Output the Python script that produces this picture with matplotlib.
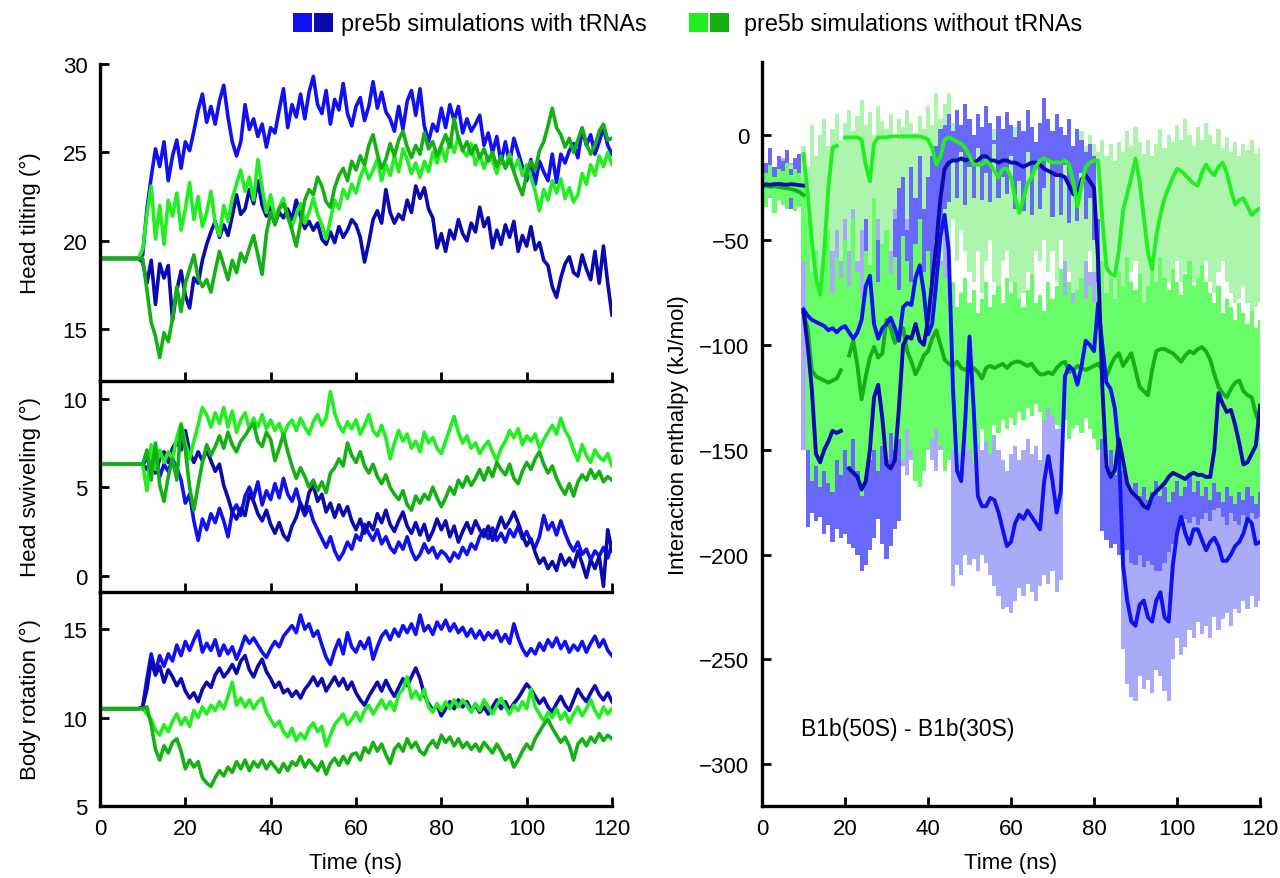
import numpy as np
import matplotlib
matplotlib.use('Agg')
import matplotlib.pyplot as plt
from matplotlib.patches import Rectangle

plt.rcParams['font.family'] = ['Liberation Sans', 'DejaVu Sans']

# ---------------- data ----------------
time_ns = np.arange(0, 121)

# Head tilting (deg)
tilt_blue = [19.0,19.0,19.0,19.0,19.0,19.0,19.0,19.0,19.0,19.0,
    19.2,21.8,23.6,25.2,24.2,25.6,23.4,24.8,25.7,24.1,
    25.6,25.1,26.2,27.4,28.3,26.7,27.6,26.6,27.9,28.8,
    27.0,25.6,24.8,25.6,27.7,26.3,26.9,25.9,26.6,25.3,
    26.4,26.1,27.4,28.6,26.4,27.7,27.0,28.3,26.9,28.4,
    29.3,27.7,27.2,28.5,26.6,28.0,27.4,28.9,27.2,26.5,
    27.6,28.1,26.8,27.6,29.0,27.5,28.4,27.3,26.9,26.2,
    27.6,26.3,27.9,28.5,27.1,28.6,26.5,25.6,26.6,26.2,
    27.5,26.4,27.7,26.8,27.6,26.1,26.9,26.2,26.6,27.1,
    25.4,26.1,25.0,25.9,24.4,25.6,24.4,25.8,25.0,24.2,
    23.4,24.6,23.2,24.5,23.9,23.4,24.9,23.3,24.9,24.4,
    25.1,25.5,24.7,26.3,25.4,26.0,24.9,25.6,26.4,25.4,
    24.9]
tilt_navy = [19.0,19.0,19.0,19.0,19.0,19.0,19.0,19.0,19.0,19.0,
    18.8,17.6,18.9,16.4,18.7,17.9,18.6,15.5,17.2,18.3,
    16.9,16.2,17.9,17.6,18.9,19.8,20.5,21.1,20.2,20.9,
    20.3,21.4,22.6,21.5,21.8,22.9,22.1,23.4,22.0,21.4,
    21.9,21.0,21.6,21.3,21.8,21.2,22.3,21.4,20.7,21.1,
    20.6,21.0,20.1,19.8,20.5,19.9,20.8,20.2,20.6,21.2,
    20.9,20.2,18.8,19.9,21.2,21.7,21.0,22.9,21.6,21.0,
    21.5,21.2,22.3,21.6,23.1,22.4,23.0,21.8,21.3,19.6,
    20.4,19.4,20.6,20.1,21.2,20.4,20.0,21.0,20.5,21.9,
    20.8,21.3,19.6,20.6,19.8,20.9,20.2,21.1,19.4,20.3,
    19.7,20.8,19.5,19.9,18.9,18.6,17.4,16.8,17.9,18.7,
    19.1,18.2,18.0,19.2,18.4,17.8,19.4,17.6,19.7,17.6,
    15.8]
tilt_lgreen = [19.0,19.0,19.0,19.0,19.0,19.0,19.0,19.0,19.0,19.0,
    19.5,21.5,23.1,20.1,22.0,19.8,22.3,21.4,22.7,20.6,
    21.8,23.3,21.2,22.5,20.8,21.6,22.8,21.0,20.3,22.0,
    21.1,22.4,23.2,24.0,22.8,23.6,22.3,24.6,23.0,21.6,
    22.6,21.2,21.9,22.4,21.3,20.8,21.5,22.1,21.0,21.6,
    22.4,21.5,20.9,20.1,21.2,22.3,21.8,22.9,22.4,23.2,
    22.7,23.6,24.2,23.5,24.0,24.6,23.4,24.3,23.7,24.8,
    23.9,25.2,24.6,23.8,24.4,23.6,24.5,23.9,25.0,24.4,
    25.3,24.5,25.8,25.0,25.9,25.1,24.8,25.5,24.3,24.9,
    24.1,24.8,24.5,23.8,24.7,24.2,24.9,24.0,24.6,23.7,
    24.3,23.6,22.8,21.7,22.9,22.3,23.4,22.7,23.5,22.4,
    23.0,22.2,22.6,23.8,23.2,24.3,23.7,24.8,24.2,25.0,
    24.3]
tilt_dgreen = [19.0,19.0,19.0,19.0,19.0,19.0,19.0,19.0,19.0,19.0,
    19.0,17.2,15.4,14.6,13.4,14.8,14.3,15.6,17.4,16.0,
    17.6,18.4,19.2,17.9,17.4,17.8,17.1,18.3,19.4,18.6,
    17.8,18.9,18.2,19.3,18.8,19.6,20.3,19.2,18.1,20.4,
    21.6,20.9,21.8,22.1,21.4,20.6,19.7,21.0,22.3,22.9,
    22.6,23.6,23.1,22.2,21.9,23.0,23.7,24.1,23.4,24.5,
    24.0,24.8,24.3,25.4,26.0,24.9,24.1,24.6,25.5,24.8,
    25.7,26.2,25.3,24.7,25.4,24.9,26.1,25.2,25.6,24.8,
    25.4,26.0,25.3,26.9,25.8,25.1,25.6,24.9,25.4,24.7,
    25.2,24.5,25.0,24.2,24.8,24.1,24.6,23.9,23.2,22.6,
    23.8,24.5,24.0,25.1,25.6,26.5,27.5,26.4,26.0,25.3,
    25.8,25.0,25.7,26.4,25.5,24.9,25.4,26.2,26.6,25.7,
    25.8]

# Head swiveling (deg)
swivel_blue = [6.3,6.3,6.3,6.3,6.3,6.3,6.3,6.3,6.3,6.3,
    6.3,6.6,6.2,6.8,5.6,6.3,5.9,6.6,6.1,5.4,
    4.1,4.6,3.1,2.0,3.2,2.6,3.5,3.0,3.8,3.1,
    2.2,3.6,4.0,3.4,4.5,5.0,4.4,5.3,4.0,4.8,
    4.3,5.2,4.4,5.5,4.6,4.2,4.9,4.0,3.4,3.9,
    3.1,2.6,2.1,1.6,2.2,1.4,0.9,1.3,1.9,1.5,
    2.3,2.0,2.9,2.4,2.0,2.6,1.8,2.2,1.6,1.3,
    1.9,1.5,2.2,1.4,0.9,1.2,1.8,1.3,1.6,1.0,
    1.4,1.2,0.8,1.3,1.0,1.6,1.2,1.8,1.5,2.2,
    2.6,2.1,2.7,2.0,2.4,1.9,2.6,2.2,2.8,2.1,
    2.5,1.9,1.6,2.2,3.4,2.6,3.0,2.3,3.1,2.4,
    1.8,1.4,1.9,1.2,1.5,0.9,1.4,1.1,1.6,1.0,
    1.8]
swivel_navy = [6.3,6.3,6.3,6.3,6.3,6.3,6.3,6.3,6.3,6.3,
    6.3,6.0,6.5,5.8,6.6,7.0,6.4,7.2,7.6,7.1,
    8.2,7.0,6.4,7.0,6.5,7.1,6.5,5.9,6.3,5.1,
    4.4,3.6,3.2,3.8,3.4,4.6,4.2,3.5,3.1,3.7,
    2.9,2.4,3.0,2.3,2.0,2.8,3.3,4.1,3.6,4.7,
    5.1,4.2,4.6,3.6,4.1,3.3,4.0,3.4,3.9,3.1,
    2.6,3.2,2.4,3.0,2.6,3.5,3.0,3.7,2.9,2.5,
    3.1,3.6,2.8,2.4,3.0,2.3,2.9,2.0,2.5,3.2,
    2.6,3.1,2.2,2.8,1.9,2.5,3.0,2.4,3.1,2.6,
    2.2,2.8,2.0,2.6,3.3,2.7,3.1,3.6,3.0,2.3,
    1.7,2.1,1.3,0.7,1.0,0.4,0.8,0.3,1.2,0.6,
    1.0,0.5,1.4,0.7,-0.1,0.9,0.4,1.1,-0.6,2.6,
    1.4]
swivel_lgreen = [6.3,6.3,6.3,6.3,6.3,6.3,6.3,6.3,6.3,6.3,
    6.3,4.8,7.4,6.0,7.1,6.4,7.0,6.6,7.8,8.6,
    7.5,6.6,7.6,8.5,9.5,9.1,8.4,9.2,8.6,9.5,
    8.4,9.3,8.1,8.8,9.2,8.3,8.9,8.4,9.1,8.3,
    8.8,8.2,8.6,7.9,8.5,8.8,8.2,8.9,8.4,8.0,
    8.7,9.1,8.5,8.9,10.4,9.2,8.5,8.1,8.7,8.3,
    8.8,8.0,8.5,9.1,8.2,7.9,8.5,7.8,6.6,7.5,
    8.2,7.6,8.0,7.2,7.6,7.0,8.1,7.5,7.8,7.2,
    6.9,7.6,8.3,9.0,8.1,7.5,7.9,7.2,7.5,6.9,
    7.3,7.6,7.0,6.5,7.2,7.6,8.2,7.8,8.3,7.4,
    7.9,7.6,8.0,7.2,7.7,8.1,8.5,8.0,8.9,8.2,
    7.8,7.1,6.5,7.4,6.8,6.4,7.1,6.7,6.5,6.9,
    6.2]
swivel_dgreen = [6.3,6.3,6.3,6.3,6.3,6.3,6.3,6.3,6.3,6.3,
    6.3,7.1,5.4,7.5,5.1,4.2,5.6,6.6,5.4,8.5,
    7.1,5.0,3.7,5.1,6.4,7.4,6.8,7.3,7.9,7.2,
    8.1,7.4,7.0,7.6,7.9,8.3,8.6,7.6,7.3,8.1,
    7.7,6.5,7.2,8.0,7.0,6.2,5.5,6.1,5.6,5.0,
    5.4,4.8,5.3,4.7,5.8,6.1,6.6,6.2,7.5,6.8,
    6.4,7.0,6.2,5.8,6.3,5.6,5.2,5.7,5.0,4.6,
    4.3,4.8,4.0,3.7,4.5,4.1,4.6,4.3,5.0,4.4,
    3.9,4.4,5.0,4.6,5.4,5.0,5.6,5.1,5.5,6.0,
    5.4,6.1,5.6,6.4,6.0,5.7,6.3,5.5,5.2,5.9,
    6.4,6.0,6.6,7.0,6.3,5.8,6.2,5.5,5.0,4.6,
    5.2,4.5,5.3,5.7,5.4,6.0,5.5,5.9,5.3,5.6,
    5.4]

# Body rotation (deg)
body_blue = [10.5,10.5,10.5,10.5,10.5,10.5,10.5,10.5,10.5,10.5,
    10.6,12.2,13.6,12.6,13.5,12.9,13.6,13.2,14.1,13.5,
    14.3,13.8,14.4,14.9,13.7,14.2,13.8,14.4,13.5,14.1,
    13.6,14.0,13.3,13.9,14.6,14.2,14.5,14.1,13.7,13.4,
    13.9,14.3,14.0,14.6,14.9,15.2,14.8,15.8,15.0,15.3,
    14.6,14.9,14.1,13.4,13.0,13.8,14.4,13.6,14.8,14.0,
    13.7,14.3,13.9,14.5,13.3,14.0,14.6,14.9,14.4,15.0,
    14.6,15.2,14.8,15.3,14.7,15.8,14.9,15.2,14.7,15.4,
    15.0,15.5,14.9,15.3,14.8,15.1,14.6,15.0,14.5,14.9,
    14.4,14.8,14.5,14.9,14.3,14.7,14.2,15.3,14.5,13.9,
    13.5,13.9,13.6,14.2,13.8,14.4,14.0,14.5,13.9,14.3,
    13.7,14.1,13.8,14.3,13.7,14.2,14.6,14.0,14.4,13.8,
    13.5]
body_navy = [10.5,10.5,10.5,10.5,10.5,10.5,10.5,10.5,10.5,10.5,
    10.6,11.6,13.2,12.4,12.9,12.0,12.7,12.3,11.8,12.2,
    11.5,11.1,11.4,10.9,11.6,12.0,11.7,12.4,12.8,12.3,
    12.6,13.0,12.5,13.2,13.5,12.7,12.3,12.9,13.3,12.6,
    12.2,11.7,12.0,11.4,11.6,11.2,11.5,11.1,11.6,11.9,
    12.3,11.8,12.2,11.5,11.9,12.3,11.8,12.2,11.6,12.0,
    11.4,11.0,10.7,11.2,11.6,12.0,11.5,12.1,11.6,11.2,
    11.7,12.2,11.8,12.3,12.8,12.2,11.3,10.8,10.4,10.7,
    10.1,10.5,10.9,10.5,11.0,10.6,10.9,10.4,10.7,10.3,
    10.6,10.2,10.6,11.0,10.5,10.9,10.4,10.8,11.1,11.5,
    11.9,11.6,11.2,10.8,11.1,10.6,10.3,10.8,11.2,10.7,
    10.4,11.0,11.6,11.2,10.9,11.4,11.8,11.3,11.0,11.4,
    10.9]
body_lgreen = [10.5,10.5,10.5,10.5,10.5,10.5,10.5,10.5,10.5,10.5,
    10.5,10.2,9.9,9.3,9.0,9.6,9.2,9.8,10.2,9.6,
    10.0,9.5,10.4,10.0,10.6,10.2,10.7,10.4,10.9,10.5,
    11.2,12.0,10.7,11.1,10.6,11.0,10.5,10.9,11.1,10.3,
    9.9,9.5,9.8,9.2,8.9,9.4,8.7,9.1,8.8,9.4,
    9.7,9.2,9.5,8.4,9.0,9.6,9.9,10.2,9.6,9.9,
    10.3,9.8,10.4,10.7,10.2,10.6,11.0,10.5,10.9,10.4,
    11.3,11.6,12.3,11.1,11.5,11.0,11.6,10.6,10.3,10.8,
    10.4,10.9,10.5,11.0,10.6,11.0,10.7,10.3,10.8,10.4,
    11.0,10.6,10.2,10.7,11.1,10.6,10.2,10.7,10.4,10.9,
    10.5,11.6,10.6,10.2,9.8,10.3,10.0,10.5,9.9,10.3,
    9.7,10.2,10.6,10.1,10.5,11.0,10.4,10.0,10.6,10.2,
    10.5]
body_dgreen = [10.5,10.5,10.5,10.5,10.5,10.5,10.5,10.5,10.5,10.5,
    10.5,10.6,9.6,8.2,7.6,8.4,8.0,8.6,8.8,8.1,
    7.1,7.6,7.2,7.5,6.6,6.3,6.1,6.6,7.0,6.7,
    7.2,6.9,7.5,7.1,7.6,7.0,7.5,7.2,7.6,7.1,
    7.5,7.2,6.9,7.4,7.0,7.5,7.3,7.8,7.2,7.6,
    7.3,7.0,7.5,6.8,7.4,7.7,7.3,7.8,7.4,7.9,
    8.0,7.6,8.3,8.0,8.6,8.1,8.5,7.9,7.4,8.2,
    8.5,8.1,8.8,8.3,8.6,8.1,7.9,8.4,8.7,8.3,
    9.0,8.6,8.9,8.4,8.8,8.3,8.6,8.2,8.5,8.1,
    8.6,8.3,8.0,8.5,8.1,7.6,7.9,7.2,7.6,8.1,
    8.5,8.2,8.8,9.2,9.6,9.9,9.4,9.0,8.6,8.9,
    8.4,7.6,8.5,8.8,8.4,8.9,8.6,9.1,8.7,9.0,
    8.8]

# Interaction enthalpy (kJ/mol): running averages
nan = np.nan
enth_navy_start = [-23.5,-23.4,-23.6,-23.3,-23.2,-23.4,-23.6,-23.3,-23.5,-23.8,-24.0]
enth_dgreen_start = [-24.0,-24.1,-24.5,-24.2,-24.6,-25.0,-25.3,-25.6,-26.2,-27.0,-28.5]

enth_blue = [-83,-86,-88,-89,-90,-91,-93,-92,-94,-92,
    -91,-94,-97,-94,-88,-72,-67,-90,-97,-92,
    -90,-87,-92,-98,-82,-80,-81,-68,-62,-75,
    -95,-90,-70,-48,-38,-55,-120,-160,-165,-135,
    -96,-130,-172,-177,-177,-173,-174,-180,-188,-196,
    -194,-185,-181,-183,-179,-182,-185,-188,-165,-153,
    -165,-180,-170,-115,-110,-112,-119,-110,-98,-100,
    -103,-80,-100,-118,-121,-130,-150,-205,-222,-232,
    -234,-224,-222,-230,-232,-222,-218,-230,-232,-205,
    -190,-182,-190,-195,-188,-188,-193,-198,-194,-192,
    -196,-203,-203,-200,-196,-194,-190,-183,-185,-195,
    -194]
enth_navy = [-84,-100,-121,-152,-156,-150,-146,-141,-142,-141,
    nan,-159,-161,-163,-169,-165,-150,-125,-119,-135,
    -157,-159,-155,-130,-100,-96,-97,-90,-98,-100,
    -88,-70,-52,-30,-16,-13,-12,-12,-11,-12,
    -11,-13,-12,-10,-10,-12,-12,-13,-12,-12,
    -13,-13,-14,-15,-14,-13,-13,-14,-16,-17,
    -18,-19,-19,-20,-24,-28,-29,-21,-19,-22,
    -25,-60,-120,-158,-163,-160,-145,-155,-166,-170,
    -172,-174,-177,-178,-172,-170,-168,-166,-163,-161,
    -162,-163,-164,-162,-161,-162,-162,-163,-163,-150,
    -123,-128,-132,-131,-138,-147,-157,-156,-152,-148,
    -129]
enth_lgreen = [-9,-28,-50,-68,-76,-55,-25,-6,-5,nan,
    -1,-1,-1,-1,-2,-14,-22,-4,-1,-1,
    -1,-0.5,-0.5,-0.5,-0.5,-0.5,-0.5,-0.5,-0.5,-1,
    -2,-6,-14,-10,-2,-1,-2,-3,-4,-6,
    -10,-14,-14,-14,-12,-14,-17,-20,-16,-16,
    -20,-30,-37,-30,-23,-20,-15,-12,-11,-12,
    -13,-13,-13,-12,-14,-22,-34,-24,-15,-13,
    -12,-12,-40,-63,-66,-67,-55,-36,-28,-20,
    -11,-22,-39,-56,-64,-48,-38,-30,-25,-20,
    -16,-17,-19,-21,-23,-24,-18,-14,-17,-19,
    -15,-13,-18,-26,-33,-31,-30,-34,-38,-36,
    -35]
enth_dgreen = [-85,-92,-112,-115,-116,-117,-118,-117,-116,-112,
    nan,-105,-98,-110,-126,-115,-106,-101,-106,-104,
    -88,-92,-99,-96,-92,-103,-108,-114,-110,-105,
    -103,-97,-93,-100,-107,-109,-110,-108,-111,-112,
    -110,-111,-113,-116,-111,-110,-111,-110,-109,-111,
    -109,-108,-108,-109,-110,-109,-112,-114,-114,-113,
    -114,-111,-109,-108,-113,-112,-110,-111,-112,-111,
    -110,-109,-112,-115,-110,-106,-104,-110,-107,-104,
    -112,-120,-122,-124,-112,-103,-102,-102,-103,-104,
    -106,-108,-105,-103,-104,-102,-101,-103,-107,-114,
    -120,-123,-125,-121,-118,-117,-122,-124,-125,-133,
    -138]

# Raw fluctuation ranges (upper / lower) of the instantaneous enthalpy
raw_blue_hi = [-13,-16,-12,-18,-14,-11,-17,-13,-15,-12,
    -15,-40,-25,-60,-35,-20,-45,-15,-30,-10,
    -40,-20,-12,-35,-25,-10,-30,-15,-40,-20,
    -8,-30,-18,-45,-25,-12,-35,-20,-50,-28,
    -15,-40,-22,-30,-18,-60,-110,-140,-135,-100,
    -80,-120,-145,-150,-140,-148,-143,-150,-155,-160,
    -152,-148,-155,-150,-145,-152,-148,-155,-130,-110,
    -125,-140,-120,-60,-75,-50,-80,-55,-40,-65,
    -45,-30,-60,-80,-70,-95,-110,-150,-175,-180,
    -185,-172,-178,-182,-186,-175,-170,-180,-185,-165,
    -150,-140,-155,-160,-150,-148,-158,-162,-155,-150,
    -160,-165,-162,-158,-155,-152,-150,-140,-145,-155,
    -160]
raw_blue_lo = [-28,-32,-30,-36,-29,-33,-31,-35,-30,-34,
    -150,-155,-160,-152,-158,-165,-156,-162,-150,-158,
    -160,-155,-165,-158,-162,-150,-160,-155,-165,-158,
    -162,-155,-160,-150,-158,-162,-155,-160,-152,-158,
    -150,-155,-160,-150,-145,-150,-215,-205,-210,-200,
    -205,-202,-208,-200,-204,-210,-215,-220,-226,-225,
    -228,-222,-216,-220,-214,-218,-222,-215,-210,-214,
    -208,-218,-212,-135,-128,-140,-132,-125,-120,-130,
    -122,-105,-125,-140,-145,-160,-180,-245,-262,-268,
    -270,-258,-264,-260,-266,-255,-258,-265,-270,-250,
    -240,-248,-244,-236,-240,-232,-238,-234,-240,-230,
    -236,-231,-228,-234,-226,-228,-222,-226,-220,-225,
    -222]
raw_navy_hi = [-8,-13,-6,-15,-10,-12,-7,-16,-11,-9,
    -30,-70,-95,-110,-100,-90,-105,-85,-95,-100,
    -110,-90,-60,-100,-85,-40,-70,-30,-50,-90,
    -60,-75,-40,-25,-20,-45,-15,-30,-10,-35,
    -20,-10,-5,3,5,10,2,12,5,15,
    8,0,10,4,14,6,-2,9,3,11,
    5,-1,7,2,12,4,-3,6,18,8,
    2,10,4,0,8,-5,3,-2,-8,-4,
    -10,-40,-100,-120,-115,-95,-110,-125,-115,-130,
    -120,-135,-125,-130,-115,-120,-110,-125,-118,-105,
    -115,-120,-110,-125,-100,-115,-120,-108,-95,-80,
    -75,-90,-78,-95,-105,-100,-112,-95,-90,-100,
    -95]
raw_navy_lo = [-24,-30,-27,-33,-26,-31,-28,-35,-29,-32,
    -60,-187,-180,-184,-182,-190,-186,-194,-188,-192,
    -190,-195,-197,-200,-208,-205,-198,-192,-183,-195,
    -202,-196,-188,-184,-140,-130,-125,-110,-120,-130,
    -100,-80,-60,-45,-35,-32,-12,-30,-8,-33,
    -15,-30,-6,-31,-18,-32,-4,-30,-20,-28,
    -10,-35,-22,-36,-8,-38,-16,-35,-25,-12,
    -39,-20,-38,-14,-42,-26,-41,-18,-40,-30,
    -50,-150,-189,-193,-197,-195,-200,-202,-198,-204,
    -205,-200,-206,-203,-205,-208,-208,-204,-199,-195,
    -190,-186,-183,-185,-182,-186,-183,-180,-184,-179,
    -178,-182,-186,-180,-184,-186,-181,-185,-180,-183,
    -182]
raw_lgreen_hi = [-14,-17,-12,-19,-15,-13,-18,-14,-16,-12,
    -5,-15,5,-10,0,8,-5,3,10,-2,
    6,12,2,9,17,5,11,0,14,7,
    3,10,-2,8,4,12,6,1,9,3,
    14,5,20,8,15,20,6,-2,4,-5,
    2,-3,5,-4,0,-6,3,-5,1,-8,
    -2,4,-6,0,-4,3,-7,-1,-5,2,
    -3,-8,0,-4,-1,-6,-3,2,-5,0,
    -4,-8,-2,-10,-4,-12,-3,-8,2,-5,
    4,-3,-9,-2,-10,-4,3,-6,0,-3,
    5,-2,8,0,-5,4,-2,6,0,-4,
    3,-6,-1,-8,-3,-10,-4,-7,-2,-9,
    -6]
raw_lgreen_lo = [-28,-31,-27,-33,-29,-32,-30,-34,-28,-31,
    -40,-70,-80,-85,-90,-85,-75,-55,-45,-60,
    -40,-55,-35,-60,-45,-70,-75,-50,-40,-65,
    -45,-55,-35,-70,-50,-40,-60,-45,-75,-50,
    -55,-65,-70,-60,-45,-55,-40,-60,-45,-55,
    -65,-70,-55,-75,-60,-50,-70,-75,-60,-55,
    -70,-80,-85,-75,-65,-70,-55,-60,-50,-65,
    -55,-70,-50,-60,-65,-75,-85,-70,-60,-55,
    -65,-60,-85,-95,-100,-98,-90,-80,-75,-65,
    -60,-70,-85,-95,-100,-90,-80,-75,-70,-65,
    -60,-70,-65,-75,-70,-80,-65,-60,-70,-75,
    -65,-60,-70,-75,-80,-78,-72,-80,-85,-82,
    -80]
raw_dgreen_hi = [-15,-18,-14,-20,-16,-17,-13,-19,-16,-18,
    -22,-40,-65,-55,-70,-60,-45,-75,-58,-68,
    -50,-72,-40,-65,-78,-55,-62,-30,-70,-52,
    -45,-66,-58,-74,-48,-60,-70,-52,-40,-65,
    -55,-72,-50,-62,-68,-78,-70,-82,-75,-68,
    -80,-74,-85,-78,-70,-82,-76,-72,-80,-68,
    -75,-70,-78,-82,-74,-66,-80,-76,-84,-70,
    -78,-72,-64,-76,-70,-80,-74,-68,-78,-72,
    -80,-70,-60,-75,-68,-78,-65,-72,-58,-70,
    -74,-66,-80,-72,-62,-70,-58,-68,-74,-64,
    -70,-76,-66,-60,-72,-68,-62,-70,-75,-80,
    -72,-85,-78,-82,-88,-80,-85,-90,-84,-92,
    -88]
raw_dgreen_lo = [-30,-34,-29,-37,-31,-33,-35,-30,-36,-34,
    -60,-150,-165,-158,-168,-160,-166,-170,-155,-162,
    -150,-158,-145,-160,-172,-163,-155,-150,-160,-148,
    -155,-142,-150,-145,-155,-140,-150,-165,-168,-160,
    -150,-145,-140,-148,-160,-155,-150,-158,-152,-145,
    -150,-156,-148,-140,-146,-152,-138,-142,-136,-140,
    -135,-138,-132,-136,-130,-134,-128,-132,-136,-130,
    -134,-138,-140,-136,-145,-140,-138,-142,-135,-140,
    -145,-150,-145,-158,-150,-162,-155,-160,-165,-170,
    -166,-172,-168,-174,-170,-165,-172,-168,-175,-170,
    -165,-172,-168,-162,-170,-165,-172,-168,-174,-166,
    -170,-175,-168,-172,-176,-170,-174,-168,-172,-176,
    -170]

legend_labels = ['pre5b simulations with tRNAs', 'pre5b simulations without tRNAs']
left_ylabels = ['Head tilting (°)', 'Head swiveling (°)', 'Body rotation (°)']

# ---------------- style ----------------
BLUE = '#1010F0'
NAVY = '#0A0AAE'
LGREEN = '#22EE22'
DGREEN = '#14B014'
C_LAV = '#AAABF8'
C_MBLUE = '#6868FA'
C_PGREEN = '#ADF5AD'
C_BGREEN = '#68FC68'

W, H = 1280, 879
fig = plt.figure(figsize=(W / 100, H / 100), dpi=100)

def fx(px):
    return px / W

def fy(py):
    return 1 - py / H

FS = 16
SPW = 2.4

def style_axis(ax):
    ax.patch.set_visible(False)
    for s in ['top', 'right']:
        ax.spines[s].set_visible(False)
    for s in ['left', 'bottom']:
        ax.spines[s].set_linewidth(SPW)
    ax.tick_params(direction='in', length=6.5, width=2.0, labelsize=FS)
    ax.tick_params(axis='y', pad=9)
    ax.tick_params(axis='x', pad=9)

# left panels
L0, L1 = 100, 612
panels = [(65, 382), (382, 593), (593, 807)]
ylims = [(12.07, 30), (-0.92, 11.0), (5, 17.1)]
yticks = [[15, 20, 25, 30], [0, 5, 10], [5, 10, 15]]
datasets = [
    (tilt_blue, tilt_navy, tilt_lgreen, tilt_dgreen),
    (swivel_blue, swivel_navy, swivel_lgreen, swivel_dgreen),
    (body_blue, body_navy, body_lgreen, body_dgreen),
]
LW = 2.6
for i, ((top, bot), yl, yt, data, lab) in enumerate(zip(panels, ylims, yticks, datasets, left_ylabels)):
    ax = fig.add_axes([fx(L0), fy(bot), fx(L1 - L0), (bot - top) / H])
    b, n, lg, dg = data
    ax.plot(time_ns, b, color=BLUE, lw=LW)
    ax.plot(time_ns, n, color=NAVY, lw=LW)
    ax.plot(time_ns, lg, color=LGREEN, lw=LW)
    ax.plot(time_ns, dg, color=DGREEN, lw=LW)
    ax.set_xlim(0, 120)
    ax.set_ylim(*yl)
    ax.set_yticks(yt)
    ax.set_xticks([0, 20, 40, 60, 80, 100, 120])
    style_axis(ax)
    ax.set_ylabel(lab, fontsize=FS)
    ax.yaxis.set_label_coords(-0.115, 0.5)
    if i < 2:
        ax.tick_params(axis='x', labelbottom=False)
    else:
        ax.set_xlabel('Time (ns)', fontsize=FS, labelpad=9)

# right panel
R0, R1 = 762, 1260
axr = fig.add_axes([fx(R0), fy(807), fx(R1 - R0), (807 - 63) / H])
fb = dict(step='mid', lw=0)
axr.fill_between(time_ns, raw_blue_lo, raw_blue_hi, color=C_LAV, **fb)
axr.fill_between(time_ns, raw_lgreen_lo, raw_lgreen_hi, color=C_PGREEN, **fb)
axr.fill_between(time_ns, raw_navy_lo, raw_navy_hi, color=C_MBLUE, **fb)
axr.fill_between(time_ns, raw_dgreen_lo, raw_dgreen_hi, color=C_BGREEN, **fb)

t_start = time_ns[:11]
t_main = time_ns[10:]
LW2 = 2.8
axr.plot(t_start, enth_dgreen_start, color=DGREEN, lw=LW2)
axr.plot(t_main, enth_dgreen, color=DGREEN, lw=LW2)
axr.plot(t_main, enth_blue, color=BLUE, lw=LW2)
axr.plot(t_start, enth_navy_start, color=NAVY, lw=LW2)
axr.plot(t_main, enth_navy, color=NAVY, lw=LW2)
axr.plot(t_main, enth_lgreen, color=LGREEN, lw=LW2)

axr.set_xlim(0, 120)
axr.set_ylim(-320, 35)
axr.set_xticks([0, 20, 40, 60, 80, 100, 120])
axr.set_yticks([-300, -250, -200, -150, -100, -50, 0])
axr.set_yticklabels(['\u2212300', '\u2212250', '\u2212200', '\u2212150', '\u2212100', '\u221250', '0'])
style_axis(axr)
axr.set_ylabel('Interaction enthalpy (kJ/mol)', fontsize=FS)
axr.yaxis.set_label_coords(-0.147, 0.5)
axr.set_xlabel('Time (ns)', fontsize=FS, labelpad=9)
axr.text(9.5, -283, 'B1b(50S) - B1b(30S)', fontsize=16.5, va='center', ha='left')

# legend at top
sq = 19
for x0, col in [(293, BLUE), (314, NAVY), (689, LGREEN), (710, DGREEN)]:
    fig.patches.append(Rectangle((fx(x0), fy(14 + sq)), sq / W, sq / H,
                                 transform=fig.transFigure, color=col, lw=0))
fig.text(fx(341), fy(24), legend_labels[0], fontsize=16.8, va='center', ha='left')
fig.text(fx(744), fy(24), legend_labels[1], fontsize=16.8, va='center', ha='left')

fig.savefig('out.png', dpi=100)
